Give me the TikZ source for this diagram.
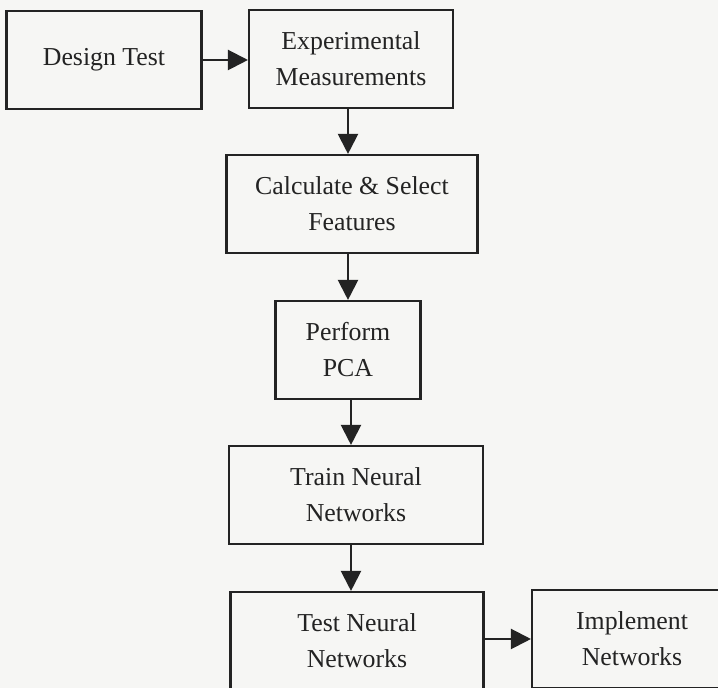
\documentclass[tikz,border=0pt]{standalone}
\usepackage{fontspec}
\setmainfont{Liberation Serif}
\usetikzlibrary{arrows.meta}
\definecolor{paper}{RGB}{246,246,244}
\definecolor{ink}{RGB}{35,35,35}
\tikzset{
    stage/.style={draw=ink, line width=1.2pt, fill=paper, inner sep=0pt,
        minimum height=1.96cm, align=center, text=ink,
        font=\fontsize{14.7}{20.5}\selectfont},
    flow/.style={draw=ink, line width=1.2pt, -{Triangle[length=0.4cm,width=0.4cm]}}
}
\begin{document}
\begin{tikzpicture}[x=0.02cm, y=-0.02cm]
    \useasboundingbox (0,0) rectangle (718,688);
    \clip (0,0) rectangle (718,688);
    \fill[paper] (0,0) rectangle (718,688);
    % Stages of the procedure
    \node[stage, minimum width=3.9cm] (design) at (104,60) {Design Test};
    \node[stage, minimum width=4.08cm] (measure) at (351,59) {Experimental\\Measurements};
    \node[stage, minimum width=5.02cm] (features) at (352,204) {Calculate \& Select\\Features};
    \node[stage, minimum width=2.9cm] (pca) at (348,350) {Perform\\PCA};
    \node[stage, minimum width=5.08cm] (train) at (356,495) {Train Neural\\Networks};
    \node[stage, minimum width=5.06cm] (test) at (357,641) {Test Neural\\Networks};
    \node[stage, minimum width=4.0cm] (implement) at (632,639) {Implement\\Networks};
    % Connectors
    \draw[flow] (design.east) -- (design.east -| measure.west);
    \draw[flow] (348,0 |- measure.south) -- (348,0 |- features.north);
    \draw[flow] (348,0 |- features.south) -- (348,0 |- pca.north);
    \draw[flow] (351,0 |- pca.south) -- (351,0 |- train.north);
    \draw[flow] (351,0 |- train.south) -- (351,0 |- test.north);
    \draw[flow] (test.east |- 0,639) -- (implement.west |- 0,639);
\end{tikzpicture}
\end{document}
